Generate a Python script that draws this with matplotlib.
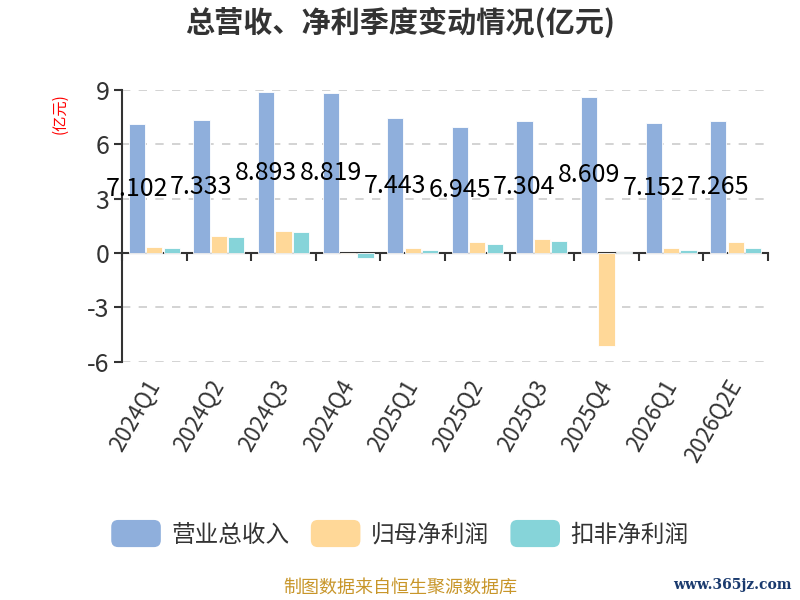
import numpy as np
import matplotlib
matplotlib.use("Agg")
import matplotlib.pyplot as plt
from matplotlib.patches import FancyBboxPatch
from matplotlib.legend_handler import HandlerPatch

plt.rcParams['font.family'] = ['Noto Sans CJK SC', 'DejaVu Sans']

quarters = ['2024Q1', '2024Q2', '2024Q3', '2024Q4', '2025Q1',
            '2025Q2', '2025Q3', '2025Q4', '2026Q1', '2026Q2E']
revenue = [7.102, 7.333, 8.893, 8.819, 7.443, 6.945, 7.304, 8.609, 7.152, 7.265]
net_profit = [0.31, 0.96, 1.21, -0.04, 0.26, 0.59, 0.77, -5.15, 0.28, 0.61]
deducted_profit = [0.26, 0.88, 1.18, -0.29, 0.17, 0.51, 0.64, 0.05, 0.17, 0.28]
series_names = ['营业总收入', '归母净利润', '扣非净利润']
yticks = [-6, -3, 0, 3, 6, 9]

colors = ['#8FAFDC', '#FFD898', '#86D4D9']
text_col = '#333333'

fig = plt.figure(figsize=(8, 6), dpi=100)
ax = fig.add_axes([0.1525, 0.397, 0.8075, 0.453])

x = np.arange(len(quarters))
w = 0.25
step = 0.27
bars = []
for i, (vals, c) in enumerate(zip([revenue, net_profit, deducted_profit], colors)):
    b = ax.bar(x + (i - 1) * step, vals, width=w, color=c, edgecolor='white',
               linewidth=0.6, zorder=3, label=series_names[i])
    bars.append(b)

# revenue labels in the middle of the bars
for xi, v in zip(x, revenue):
    ax.text(xi - step, v / 2, f'{v:.3f}', ha='center', va='center',
            fontsize=18, color='black', zorder=5)

ax.set_xlim(-0.5, len(quarters) - 0.5)
ax.set_ylim(-6, 9)
ax.set_yticks(yticks)
ax.set_yticklabels([str(t) for t in yticks], fontsize=18, color=text_col)
for t in yticks:
    if t != 0:
        ax.axhline(t, color='#cccccc', linestyle=(0, (5, 5)), linewidth=1.2, zorder=1)

ax.set_xticks(x)
ax.set_xticklabels(quarters, rotation=60, ha='right', va='center',
                   rotation_mode='anchor', fontsize=16, color=text_col)
ax.tick_params(axis='x', length=0, pad=14)
ax.tick_params(axis='y', length=6, width=1.5, color=text_col, pad=3)

for s in ['top', 'right', 'bottom']:
    ax.spines[s].set_visible(False)
ax.spines['left'].set_color(text_col)
ax.spines['left'].set_linewidth(1.5)

# zero axis with boundary ticks
zero_ax = ax.secondary_xaxis(6 / 15)
zero_ax.set_xticks(np.arange(len(quarters) + 1) - 0.5)
zero_ax.set_xticklabels([])
zero_ax.tick_params(length=6, width=1.5, color=text_col)
zero_ax.spines['bottom'].set_color(text_col)
zero_ax.spines['bottom'].set_linewidth(1.5)

fig.text(0.075, 0.81, '(亿元)', rotation=90, color='red', fontsize=11,
         ha='center', va='center')

fig.text(0.5, 0.962, '总营收、净利季度变动情况(亿元)', ha='center', va='center',
         fontsize=21, fontweight='bold', color=text_col)


class RoundHandler(HandlerPatch):
    def create_artists(self, legend, orig_handle, xdescent, ydescent,
                       width, height, fontsize, trans):
        p = FancyBboxPatch((-xdescent, -ydescent - 3), width, height + 6,
                           boxstyle='round,pad=0,rounding_size=5',
                           facecolor=orig_handle.get_facecolor(),
                           edgecolor='none', transform=trans)
        return [p]


handles = [b.patches[0] for b in bars]
fig.legend(handles, series_names, loc='center', bbox_to_anchor=(0.5, 0.108),
           ncol=3, frameon=False, fontsize=17, labelcolor=text_col,
           handlelength=2.1, handleheight=0.85, columnspacing=0.9,
           handletextpad=0.45,
           handler_map={h: RoundHandler() for h in handles})

fig.text(0.5, 0.02, '制图数据来自恒生聚源数据库', ha='center', va='center',
         fontsize=13, color='#C8962A')
fig.text(0.99, 0.025, 'www.365jz.com', ha='right', va='center',
         fontsize=10, color='#1a3a6e', family=['DejaVu Serif'], fontweight='bold')

fig.savefig('out.png', dpi=100)
